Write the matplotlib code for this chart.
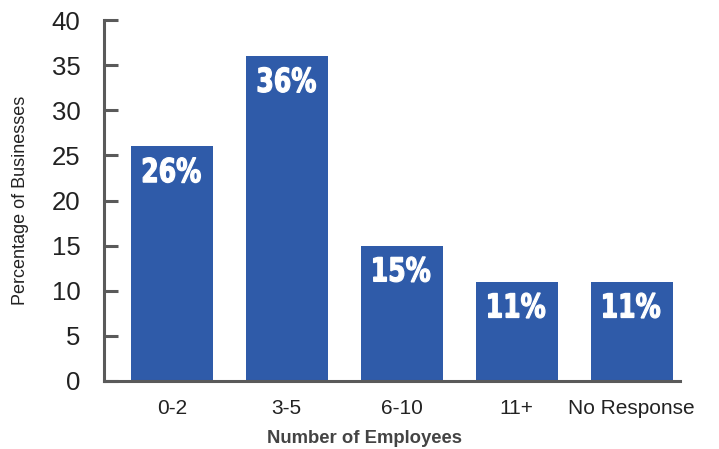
import matplotlib
matplotlib.use("Agg")
import matplotlib.pyplot as plt
import numpy as np
from matplotlib.textpath import TextPath
from matplotlib.patches import PathPatch
from matplotlib.font_manager import FontProperties
from matplotlib.transforms import Affine2D, ScaledTranslation

# Survey data: business size by number of employees
categories = ["0-2", "3-5", "6-10", "11+", "No Response"]
percentages = [26, 36, 15, 11, 11]
y_ticks = [0, 5, 10, 15, 20, 25, 30, 35, 40]

bar_color = "#2F5BA9"
axis_color = "#5a5a5a"
text_color = "#222222"

plt.rcParams["font.family"] = ["Liberation Sans", "DejaVu Sans"]

fig = plt.figure(figsize=(7.19, 4.49), dpi=100)
ax = fig.add_axes([104 / 719, 1 - 381 / 449, 576 / 719, 361 / 449])

x = np.arange(len(categories))
ax.bar(x, percentages, width=0.715, color=bar_color, zorder=2)

ax.set_xlim(-0.59, 4.42)
ax.set_ylim(0, 40)


def condensed_label(ax, xi, top, s, size=33, squeeze=0.76):
    """Draw heavy text squeezed horizontally, its top edge hanging at (xi, top)."""
    prop = FontProperties(family="DejaVu Sans", weight="bold")
    tp = TextPath((0, 0), s, size=size, prop=prop)
    ext = tp.get_extents()
    local = Affine2D().translate(-(ext.x0 + ext.x1) / 2, -ext.y1).scale(squeeze, 1.0)
    trans = local + ScaledTranslation(xi, top, ax.transData)
    ax.add_patch(PathPatch(tp, transform=trans, facecolor="white",
                           edgecolor="white", linewidth=0.9, zorder=3))


# Value labels inside the top of each bar
for xi, val in zip(x, percentages):
    condensed_label(ax, xi, val - 1.25, f"{val}%")

ax.set_yticks(y_ticks)
ax.set_xticks(x)
ax.set_xticklabels(categories, fontsize=15, color=text_color)
ax.tick_params(axis="y", direction="in", length=10, width=2.2, color=axis_color,
               labelsize=18.5, labelcolor=text_color, pad=17)
ax.tick_params(axis="x", length=0, pad=13)

for side in ["top", "right"]:
    ax.spines[side].set_visible(False)
for side in ["left", "bottom"]:
    ax.spines[side].set_color(axis_color)
    ax.spines[side].set_linewidth(2.2)

ax.set_ylabel("Percentage of Businesses", fontsize=13, color=text_color)
ax.yaxis.set_label_coords(-0.13, 0.5)
ax.set_xlabel("Number of Employees", fontsize=13.3, color="#444444",
              fontweight="bold")
ax.xaxis.set_label_coords(0.453, -0.135)

fig.savefig("out.png", dpi=100)
